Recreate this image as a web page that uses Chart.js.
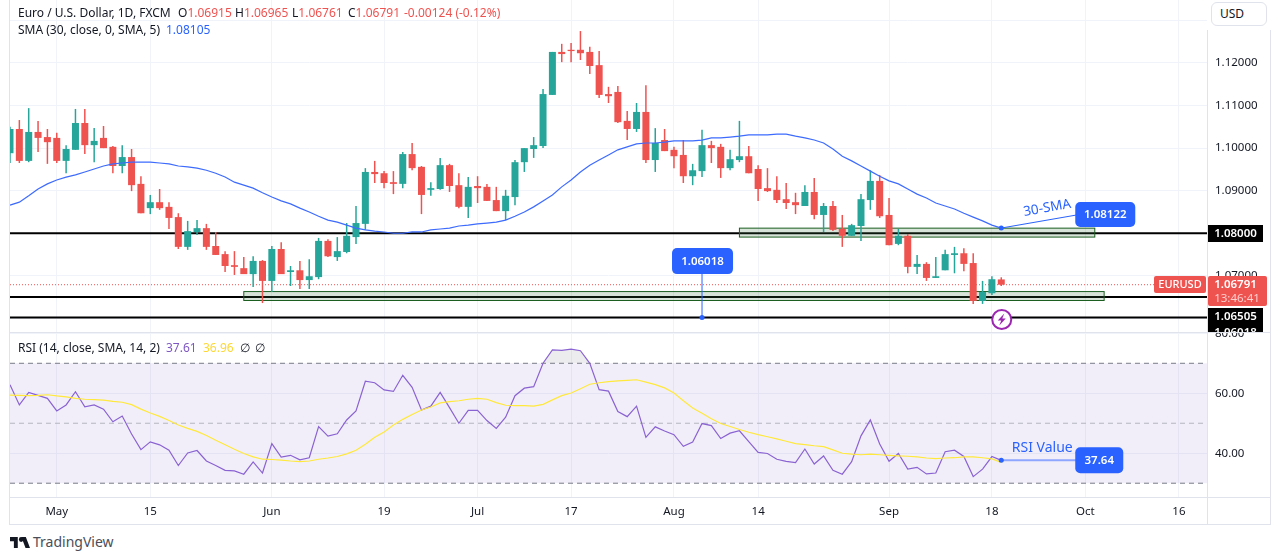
<!DOCTYPE html>
<html>
<head>
<meta charset="utf-8">
<title>EURUSD</title>
<script src="https://cdn.jsdelivr.net/npm/chart.js@4"></script>
<style>
html, body { margin: 0; padding: 0; background: #fff; overflow: hidden; }
body { width: 1275px; height: 560px; position: relative; font-family: 'Noto Sans', sans-serif; color: #131722; }
canvas { position: absolute; left: 0; }
#price-chart { top: 0; }
#rsi-chart { top: 333px; }
.rule { position: absolute; background: #e0e3eb; }
.txt { position: absolute; font-size: 12px; line-height: 16px; white-space: nowrap; }
.red { color: #ef5350; }
.blue { color: #2962ff; }
#usd { position: absolute; left: 1211px; top: 2px; width: 56px; height: 24px; box-sizing: border-box; border: 1px solid #e0e3eb; border-radius: 6px; background: #fff; font-size: 12px; line-height: 22px; padding-left: 8px; }
#usd-back { position: absolute; left: 1207px; top: 0; width: 64px; height: 30px; background: #fff; }
#logo { position: absolute; left: 10px; top: 537px; }
#brand { position: absolute; left: 33px; top: 533px; font-size: 14px; line-height: 18px; color: #4a4e59; }
</style>
</head>
<body>
<canvas id="price-chart" width="1275" height="332"></canvas>
<canvas id="rsi-chart" width="1275" height="191"></canvas>

<div class="rule" style="left:9px;top:0;width:1px;height:525px"></div>
<div class="rule" style="left:1270px;top:0;width:1px;height:525px"></div>
<div class="rule" style="left:9px;top:524px;width:1262px;height:1px"></div>
<div class="rule" style="left:10px;top:332px;width:1261px;height:1px"></div>
<div class="rule" style="left:10px;top:497px;width:1261px;height:1px"></div>
<div id="usd-back"></div>
<div class="rule" style="left:1207px;top:30px;width:1px;height:494px"></div>
<div id="usd">USD</div>

<div class="txt" style="left:18px;top:5px">Euro / U.S. Dollar, 1D, FXCM</div>
<div class="txt" style="left:178px;top:5px">O<span class="red">1.06915</span></div>
<div class="txt" style="left:235px;top:5px">H<span class="red">1.06965</span></div>
<div class="txt" style="left:292px;top:5px">L<span class="red">1.06761</span></div>
<div class="txt" style="left:348px;top:5px">C<span class="red">1.06791</span></div>
<div class="txt red" style="left:404px;top:5px">-0.00124 (-0.12%)</div>
<div class="txt" style="left:18px;top:22px">SMA (30, close, 0, SMA, 5)</div>
<div class="txt blue" style="left:166px;top:22px">1.08105</div>
<div class="txt" style="left:18px;top:340px">RSI (14, close, SMA, 14, 2)</div>
<div class="txt" style="left:166px;top:340px;color:#7e57c2">37.61</div>
<div class="txt" style="left:203px;top:340px;color:#fdd835">36.96</div>
<div class="txt" style="left:240px;top:340px">∅</div>
<div class="txt" style="left:255px;top:340px">∅</div>

<svg id="logo" width="20" height="11" viewBox="0 4 36 18" preserveAspectRatio="none">
  <path fill="#131722" d="M14 22H7V11H0V4h14v18zM28 22h8l-7.5-18h-8L28 22z"/>
  <circle fill="#131722" cx="20" cy="8" r="4"/>
</svg>
<div id="brand">TradingView</div>

<script>
const categories = [
  '04-24','04-25','04-26','04-27','04-28',
  '05-01','05-02','05-03','05-04','05-05','05-08','05-09','05-10','05-11','05-12',
  '05-15','05-16','05-17','05-18','05-19','05-22','05-23','05-24','05-25','05-26',
  '05-29','05-30','05-31','06-01','06-02','06-05','06-06','06-07','06-08','06-09',
  '06-12','06-13','06-14','06-15','06-16','06-19','06-20','06-21','06-22','06-23',
  '06-26','06-27','06-28','06-29','06-30','07-03','07-04','07-05','07-06','07-07',
  '07-10','07-11','07-12','07-13','07-14','07-17','07-18','07-19','07-20','07-21',
  '07-24','07-25','07-26','07-27','07-28','07-31','08-01','08-02','08-03','08-04',
  '08-07','08-08','08-09','08-10','08-11','08-14','08-15','08-16','08-17','08-18',
  '08-21','08-22','08-23','08-24','08-25','08-28','08-29','08-30','08-31','09-01',
  '09-04','09-05','09-06','09-07','09-08','09-11','09-12','09-13','09-14','09-15',
  '09-18','09-19','09-20','09-21','09-22','09-25','09-26','09-27','09-28','09-29',
  '10-02','10-03','10-04','10-05','10-06','10-09','10-10','10-11','10-12','10-13',
  '10-16','10-17','10-18','10-19'
];
const tickDates = ['05-01','05-15','06-01','06-19','07-03','07-17','08-01','08-14','09-01','09-18','10-02','10-16'];
const tickLabels = ['May','15','Jun','19','Jul','17','Aug','14','Sep','18','Oct','16'];
const priceTicks = [1.13, 1.12, 1.11, 1.10, 1.09, 1.08, 1.07, 1.06];
const rsiTicks = [80, 60, 40];

const opens = [
  1.0988,1.1045,1.0970,1.1038,1.1026,1.1024,1.0970,1.0996,1.1059,1.1007,
  1.1024,1.1003,1.0958,1.0979,1.0916,1.0859,1.0873,1.0862,1.0838,1.0768,
  1.0803,1.0812,1.0770,1.0751,1.0725,1.0718,1.0704,1.0735,1.0688,1.0763,
  1.0709,1.0713,1.0690,1.0697,1.0782,1.0744,1.0756,1.0791,1.0822,1.0944,
  1.0941,1.0920,1.0916,1.0986,1.0956,1.0902,1.0904,1.0960,1.0913,1.0862,
  1.0911,1.0909,1.0878,1.0852,1.0885,1.0967,1.0998,1.1005,1.1125,1.1226,
  1.1231,1.1231,1.1226,1.1195,1.1127,1.1132,1.1064,1.1045,1.1085,1.0972,
  1.1019,1.0996,1.0984,1.0934,1.0946,1.1007,1.1003,1.0953,1.0972,1.0981,
  1.0951,1.0906,1.0902,1.0880,1.0873,1.0864,1.0897,1.0843,1.0864,1.0810,
  1.0794,1.0817,1.0878,1.0923,1.0843,1.0775,1.0794,1.0721,1.0728,1.0695,
  1.0713,1.0749,1.0753,1.0730,1.0641,1.0659,1.06915
];
const highs = [
  1.1050,1.1066,1.1094,1.1064,1.1045,1.1036,1.1007,1.1092,1.1092,1.1047,
  1.1052,1.1005,1.1007,1.0998,1.0934,1.0890,1.0904,1.0873,1.0847,1.0829,
  1.0831,1.0822,1.0803,1.0758,1.0758,1.0744,1.0746,1.0737,1.0770,1.0779,
  1.0723,1.0735,1.0739,1.0789,1.0786,1.0791,1.0824,1.0864,1.0953,1.0970,
  1.0946,1.0946,1.0991,1.1012,1.0958,1.0920,1.0977,1.0963,1.0941,1.0932,
  1.0934,1.0916,1.0909,1.0902,1.0972,1.1000,1.1026,1.1139,1.1226,1.1245,
  1.1247,1.1275,1.1238,1.1228,1.1144,1.1146,1.1087,1.1106,1.1148,1.1047,
  1.1045,1.1003,1.1019,1.0963,1.1043,1.1017,1.1010,1.0996,1.1064,1.1005,
  1.0960,1.0953,1.0934,1.0918,1.0895,1.0913,1.0930,1.0871,1.0876,1.0843,
  1.0822,1.0892,1.0948,1.0937,1.0883,1.0810,1.0798,1.0749,1.0732,1.0744,
  1.0761,1.0768,1.0765,1.0753,1.0688,1.0699,1.06965
];
const lows = [
  1.0965,1.0965,1.0967,1.0991,1.0963,1.0965,1.0941,1.0996,1.0986,1.0967,
  1.1000,1.0941,1.0941,1.0899,1.0847,1.0845,1.0855,1.0810,1.0763,1.0761,
  1.0796,1.0761,1.0749,1.0709,1.0702,1.0704,1.0674,1.0636,1.0662,1.0704,
  1.0676,1.0669,1.0669,1.0692,1.0744,1.0735,1.0753,1.0775,1.0808,1.0918,
  1.0906,1.0892,1.0906,1.0948,1.0845,1.0888,1.0902,1.0897,1.0859,1.0836,
  1.0871,1.0876,1.0852,1.0831,1.0866,1.0944,1.0977,1.1000,1.1125,1.1202,
  1.1202,1.1207,1.1174,1.1118,1.1106,1.1059,1.1019,1.1038,1.0965,1.0944,
  1.0993,1.0953,1.0918,1.0913,1.0932,1.0965,1.0930,1.0948,1.0967,1.0941,
  1.0876,1.0897,1.0871,1.0857,1.0845,1.0864,1.0833,1.0803,1.0805,1.0768,
  1.0794,1.0782,1.0855,1.0836,1.0772,1.0772,1.0706,1.0704,1.0688,1.0695,
  1.0713,1.0706,1.0711,1.0634,1.0634,1.0655,1.06761
];
const closes = [
  1.1045,1.0970,1.1038,1.1024,1.1014,1.0970,1.0998,1.1059,1.1007,1.1017,
  1.1000,1.0958,1.0979,1.0913,1.0847,1.0873,1.0859,1.0836,1.0768,1.0805,
  1.0812,1.0768,1.0749,1.0723,1.0721,1.0704,1.0735,1.0688,1.0763,1.0704,
  1.0713,1.0690,1.0699,1.0782,1.0746,1.0758,1.0794,1.0824,1.0944,1.0939,
  1.0918,1.0916,1.0986,1.0953,1.0890,1.0906,1.0960,1.0911,1.0862,1.0909,
  1.0906,1.0876,1.0852,1.0888,1.0967,1.1000,1.1007,1.1127,1.1226,1.1221,
  1.1228,1.1223,1.1193,1.1125,1.1122,1.1061,1.1045,1.1085,1.0972,1.1012,
  1.0993,1.0981,1.0934,1.0948,1.1007,1.1000,1.0953,1.0974,1.0981,1.0941,
  1.0904,1.0899,1.0878,1.0871,1.0866,1.0897,1.0843,1.0864,1.0808,1.0794,
  1.0819,1.0880,1.0923,1.0840,1.0772,1.0794,1.0721,1.0728,1.0695,1.0699,
  1.0751,1.0753,1.0728,1.0641,1.0662,1.0692,1.06791
];
const sma30 = [
  1.0866,1.0873,1.0888,1.0904,1.0916,1.0925,1.0932,1.0937,1.0944,1.0951,
  1.0958,1.0963,1.0965,1.0967,1.0967,1.0967,1.0965,1.0963,1.0958,1.0956,
  1.0953,1.0948,1.0941,1.0932,1.0920,1.0913,1.0906,1.0895,1.0885,1.0876,
  1.0869,1.0859,1.0850,1.0840,1.0831,1.0826,1.0819,1.0812,1.0808,1.0805,
  1.0803,1.0800,1.0800,1.0803,1.0803,1.0808,1.0810,1.0812,1.0817,1.0819,
  1.0822,1.0824,1.0826,1.0831,1.0840,1.0850,1.0862,1.0876,1.0890,1.0909,
  1.0925,1.0944,1.0960,1.0972,1.0984,1.0996,1.1003,1.1010,1.1012,1.1012,
  1.1014,1.1017,1.1017,1.1017,1.1019,1.1024,1.1024,1.1026,1.1028,1.1031,
  1.1031,1.1031,1.1033,1.1033,1.1028,1.1024,1.1019,1.1012,1.0998,1.0981,
  1.0970,1.0958,1.0946,1.0934,1.0923,1.0916,1.0904,1.0892,1.0883,1.0871,
  1.0864,1.0857,1.0847,1.0838,1.0829,1.0819,1.0812
];
const rsi = [
  62.8,56.1,60.3,59.3,58.3,54.1,56.1,60.5,55.5,56.1,
  54.7,50.5,52.4,46.4,41.2,43.8,42.8,41.0,35.9,40.1,
  40.9,37.4,35.9,34.3,34.1,33.0,37.1,33.4,43.2,38.7,
  39.3,37.8,38.5,48.9,45.7,46.5,51.1,54.1,64.0,63.5,
  61.1,60.6,66.0,62.0,54.4,55.7,60.3,55.2,50.0,54.3,
  54.3,50.9,48.3,52.0,59.2,61.7,62.2,70.0,74.5,74.3,
  74.7,74.2,70.0,61.2,60.7,53.9,52.2,55.7,45.3,48.8,
  47.4,46.2,42.3,43.7,49.9,49.2,44.9,46.7,47.5,43.9,
  40.3,39.9,38.0,37.3,36.9,41.4,36.4,39.1,34.3,33.0,
  37.2,45.8,51.1,43.1,37.3,39.9,34.7,35.3,33.1,33.4,
  40.5,41.0,38.9,32.2,34.7,38.9,37.61
];
const rsiSma = [
  59.4,59.3,59.2,59.3,59.5,59.1,58.8,58.3,58.0,57.9,
  57.7,57.3,57.0,56.2,54.7,53.4,52.3,50.9,49.4,48.3,
  47.3,45.9,44.3,42.8,41.3,39.9,38.8,38.0,37.9,37.7,
  37.4,37.2,37.4,38.0,38.4,38.9,39.8,41.0,43.0,45.3,
  47.1,49.4,51.3,52.9,54.4,55.4,56.8,57.2,57.5,58.0,
  58.3,58.0,56.9,56.0,55.9,55.9,55.7,56.3,57.8,59.2,
  60.1,61.5,63.0,63.5,63.9,64.1,64.3,64.5,63.7,62.9,
  61.8,60.1,57.5,55.1,53.3,51.5,49.9,48.9,47.9,47.0,
  46.2,45.5,44.8,44.0,43.2,42.9,42.5,42.2,41.1,40.0,
  39.7,39.5,39.7,39.5,39.3,39.1,39.0,38.8,38.4,38.2,
  38.4,38.5,38.8,38.8,38.5,38.1,36.96
];

const levels = [1.08, 1.06505, 1.06018];
const lastPrice = 1.06791;
const zoneTop = [1.0812, 1.0663];
const zoneBottom = [1.0791, 1.0642];
const zoneStart = ['08-10', '05-29'];
const zoneEnd = ['10-03', '10-04'];
const callout = { date: '09-19', sma: 1.08122, rsi: 37.64, low: 1.06018, lowDate: '08-04' };

const GREEN = '#26a69a';
const RED = '#ef5350';
const BLUE = '#2962ff';
const GRID = '#f0f3fa';
const FONT = "'Noto Sans', sans-serif";
const TAG_FONT = '600 11.5px ' + FONT;
const candleColor = opens.map((o, i) => closes[i] >= o ? GREEN : RED);

function xTicks(scale) {
    scale.ticks = tickDates.map(d => ({ value: categories.indexOf(d) }));
}

// y labels sit inside the panel, so the axis must not reserve room for them
function fitY(scale) {
    scale.width = 64;
    scale.paddingTop = 0;
    scale.paddingBottom = 0;
}

function drawTag(ctx, x, y, w, h, r, fill, text, color, font) {
    ctx.fillStyle = fill;
    ctx.beginPath();
    ctx.roundRect(x, y, w, h, r);
    ctx.fill();
    ctx.fillStyle = color;
    ctx.font = font;
    ctx.textAlign = 'center';
    ctx.textBaseline = 'middle';
    ctx.fillText(text, x + w / 2, y + h / 2 + 0.5);
}

const priceMarks = {
    id: 'priceMarks',
    beforeDatasetsDraw(chart) {
        const { ctx, chartArea, scales: { x, y } } = chart;
        ctx.save();
        ctx.strokeStyle = '#000';
        ctx.lineWidth = 2;
        levels.forEach(v => {
            ctx.beginPath();
            ctx.moveTo(chartArea.left, y.getPixelForValue(v));
            ctx.lineTo(chartArea.right, y.getPixelForValue(v));
            ctx.stroke();
        });
        ctx.strokeStyle = RED;
        ctx.lineWidth = 1;
        ctx.setLineDash([1, 2]);
        ctx.beginPath();
        ctx.moveTo(chartArea.left, y.getPixelForValue(lastPrice));
        ctx.lineTo(1154, y.getPixelForValue(lastPrice));
        ctx.stroke();
        ctx.setLineDash([]);
        zoneTop.forEach((top, i) => {
            const left = x.getPixelForValue(categories.indexOf(zoneStart[i]));
            const right = x.getPixelForValue(categories.indexOf(zoneEnd[i]));
            const yTop = y.getPixelForValue(top);
            const yBottom = y.getPixelForValue(zoneBottom[i]);
            ctx.fillStyle = 'rgba(56, 110, 60, 0.2)';
            ctx.fillRect(left, yTop, right - left, yBottom - yTop);
            ctx.strokeStyle = '#1b5e20';
            ctx.strokeRect(left, yTop, right - left, yBottom - yTop);
        });
        ctx.restore();
    },
    afterDraw(chart) {
        const { ctx, scales: { x, y } } = chart;
        ctx.save();
        // 30-SMA callout
        const sx = x.getPixelForValue(categories.indexOf(callout.date));
        const sy = y.getPixelForValue(callout.sma);
        ctx.strokeStyle = BLUE;
        ctx.lineWidth = 1;
        ctx.beginPath();
        ctx.moveTo(sx, sy);
        ctx.lineTo(sx + 75, sy - 13);
        ctx.stroke();
        ctx.fillStyle = BLUE;
        ctx.beginPath();
        ctx.arc(sx, sy, 2.5, 0, Math.PI * 2);
        ctx.fill();
        drawTag(ctx, sx + 74, sy - 26, 60, 25, 5, BLUE, callout.sma.toFixed(5), '#fff', TAG_FONT);
        ctx.save();
        ctx.translate(sx + 46, sy - 20);
        ctx.rotate(-10 * Math.PI / 180);
        ctx.fillStyle = BLUE;
        ctx.font = '13.5px ' + FONT;
        ctx.textAlign = 'center';
        ctx.textBaseline = 'middle';
        ctx.fillText('30-SMA', 0, 0);
        ctx.restore();

        // 1.06018 callout
        const lx = x.getPixelForValue(categories.indexOf(callout.lowDate));
        const ly = y.getPixelForValue(callout.low);
        ctx.beginPath();
        ctx.moveTo(lx, ly);
        ctx.lineTo(lx, ly - 44);
        ctx.stroke();
        ctx.fillStyle = BLUE;
        ctx.beginPath();
        ctx.arc(lx, ly, 2.5, 0, Math.PI * 2);
        ctx.fill();
        drawTag(ctx, lx - 30, ly - 69.5, 61, 26, 5, BLUE, callout.low.toFixed(5), '#fff', TAG_FONT);

        // lightning badge
        const by = 319.5;
        ctx.fillStyle = '#fff';
        ctx.strokeStyle = '#9c27b0';
        ctx.lineWidth = 2;
        ctx.beginPath();
        ctx.arc(sx + 0.5, by, 9.5, 0, Math.PI * 2);
        ctx.fill();
        ctx.stroke();
        ctx.fillStyle = '#9c27b0';
        ctx.beginPath();
        ctx.moveTo(sx + 3, by - 6);
        ctx.lineTo(sx - 3.5, by + 1);
        ctx.lineTo(sx, by + 1);
        ctx.lineTo(sx - 2, by + 6);
        ctx.lineTo(sx + 4.5, by - 1);
        ctx.lineTo(sx + 1, by - 1);
        ctx.closePath();
        ctx.fill();

        // axis price tags
        drawTag(ctx, 1208, 225, 55, 17, 0, '#000', '1.08000', '#fff', TAG_FONT);
        ctx.fillStyle = '#000';
        ctx.fillRect(1208, 308, 55, 24);
        ctx.fillStyle = '#fff';
        ctx.font = TAG_FONT;
        ctx.textAlign = 'center';
        ctx.textBaseline = 'middle';
        ctx.fillText('1.06505', 1235.5, 316.5);
        ctx.fillText('1.06018', 1235.5, 333);
        drawTag(ctx, 1154, 276, 52, 17, 2, RED, 'EURUSD', '#fff', '500 11px ' + FONT);
        ctx.fillStyle = RED;
        ctx.beginPath();
        ctx.roundRect(1208, 276, 59, 30, 2);
        ctx.fill();
        ctx.fillStyle = '#fff';
        ctx.font = TAG_FONT;
        ctx.fillText('1.06791', 1235.5, 284.5);
        ctx.fillStyle = '#fbd0cf';
        ctx.font = '11.5px ' + FONT;
        ctx.fillText('13:46:41', 1237, 298.5);
        ctx.restore();
    }
};

const rsiMarks = {
    id: 'rsiMarks',
    beforeDatasetsDraw(chart) {
        const { ctx, chartArea, scales: { y } } = chart;
        ctx.save();
        const top = y.getPixelForValue(70);
        const bottom = y.getPixelForValue(30);
        ctx.fillStyle = 'rgba(126, 87, 194, 0.1)';
        ctx.fillRect(chartArea.left, top, chartArea.width, bottom - top);
        ctx.setLineDash([5, 4]);
        [[70, '#787b86'], [50, '#b2b5be'], [30, '#787b86']].forEach(([v, color]) => {
            ctx.strokeStyle = color;
            ctx.beginPath();
            ctx.moveTo(chartArea.left, y.getPixelForValue(v));
            ctx.lineTo(chartArea.right, y.getPixelForValue(v));
            ctx.stroke();
        });
        ctx.restore();
    },
    afterDraw(chart) {
        const { ctx, scales: { x, y } } = chart;
        ctx.save();
        const px = x.getPixelForValue(categories.indexOf(callout.date));
        const py = y.getPixelForValue(callout.rsi);
        ctx.strokeStyle = '#8ea6ff';
        ctx.lineWidth = 2;
        ctx.beginPath();
        ctx.moveTo(px, py);
        ctx.lineTo(px + 75, py);
        ctx.stroke();
        ctx.fillStyle = BLUE;
        ctx.beginPath();
        ctx.arc(px, py, 2.5, 0, Math.PI * 2);
        ctx.fill();
        drawTag(ctx, px + 74, py - 13, 48, 26, 5, BLUE, callout.rsi.toFixed(2), '#fff', TAG_FONT);
        ctx.fillStyle = BLUE;
        ctx.font = '14px ' + FONT;
        ctx.textAlign = 'center';
        ctx.textBaseline = 'middle';
        ctx.fillText('RSI Value', px + 41, py - 12);
        ctx.restore();
    }
};

Chart.defaults.font.family = FONT;
Chart.defaults.font.size = 11.5;
Chart.defaults.color = '#131722';
Chart.defaults.animation = false;

new Chart(document.getElementById('price-chart').getContext('2d'), {
    type: 'bar',
    data: {
        labels: categories,
        datasets: [
            {
                type: 'line',
                label: 'SMA 30',
                data: sma30,
                borderColor: '#3d6bff',
                borderWidth: 1.2,
                pointRadius: 0,
                tension: 0
            },
            {
                label: 'Body',
                data: opens.map((o, i) => [o, closes[i]]),
                backgroundColor: candleColor,
                barThickness: 7,
                minBarLength: 1,
                grouped: false,
                inflateAmount: 0
            },
            {
                label: 'Wick',
                data: lows.map((l, i) => [l, highs[i]]),
                backgroundColor: candleColor,
                barThickness: 1.5,
                grouped: false,
                inflateAmount: 0
            }
        ]
    },
    options: {
        responsive: false,
        devicePixelRatio: 1,
        layout: { padding: { left: 10, right: 4, top: 0, bottom: 0 } },
        plugins: { legend: { display: false }, tooltip: { enabled: false } },
        scales: {
            x: {
                offset: false,
                afterBuildTicks: xTicks,
                afterFit(scale) { scale.height = 0; },
                border: { display: false },
                grid: { color: GRID, offset: false, drawTicks: false },
                ticks: { display: false, autoSkip: false, maxRotation: 0 }
            },
            y: {
                position: 'right',
                min: 1.0568,
                max: 1.1348,
                afterBuildTicks(scale) {
                    scale.ticks = priceTicks.map(v => ({ value: v }));
                },
                afterFit: fitY,
                border: { display: false },
                grid: { color: GRID, drawTicks: false },
                ticks: { padding: 8, callback: v => v.toFixed(5) }
            }
        }
    },
    plugins: [priceMarks]
});

new Chart(document.getElementById('rsi-chart').getContext('2d'), {
    type: 'line',
    data: {
        labels: categories,
        datasets: [
            {
                label: 'RSI SMA',
                data: rsiSma,
                borderColor: '#ffe93b',
                borderWidth: 1.2,
                pointRadius: 0,
                tension: 0
            },
            {
                label: 'RSI',
                data: rsi,
                borderColor: '#8a63d2',
                borderWidth: 1.2,
                pointRadius: 0,
                tension: 0,
                fill: { target: { value: 70 }, above: 'rgba(120, 123, 134, 0.14)', below: 'rgba(0, 0, 0, 0)' }
            }
        ]
    },
    options: {
        responsive: false,
        devicePixelRatio: 1,
        layout: { padding: { left: 10, right: 4, top: 0, bottom: 0 } },
        plugins: { legend: { display: false }, tooltip: { enabled: false } },
        scales: {
            x: {
                afterBuildTicks: xTicks,
                afterFit(scale) { scale.height = 27; },
                border: { display: false },
                grid: { color: GRID, drawTicks: false },
                ticks: {
                    autoSkip: false,
                    maxRotation: 0,
                    padding: 8,
                    callback: (v, i) => tickLabels[i]
                }
            },
            y: {
                position: 'right',
                min: 25.4,
                max: 80.1,
                afterBuildTicks(scale) {
                    scale.ticks = rsiTicks.map(v => ({ value: v }));
                },
                afterFit: fitY,
                border: { display: false },
                grid: { color: GRID, drawTicks: false },
                ticks: { padding: 8, callback: v => v.toFixed(2) }
            }
        }
    },
    plugins: [rsiMarks]
});
</script>
</body>
</html>
